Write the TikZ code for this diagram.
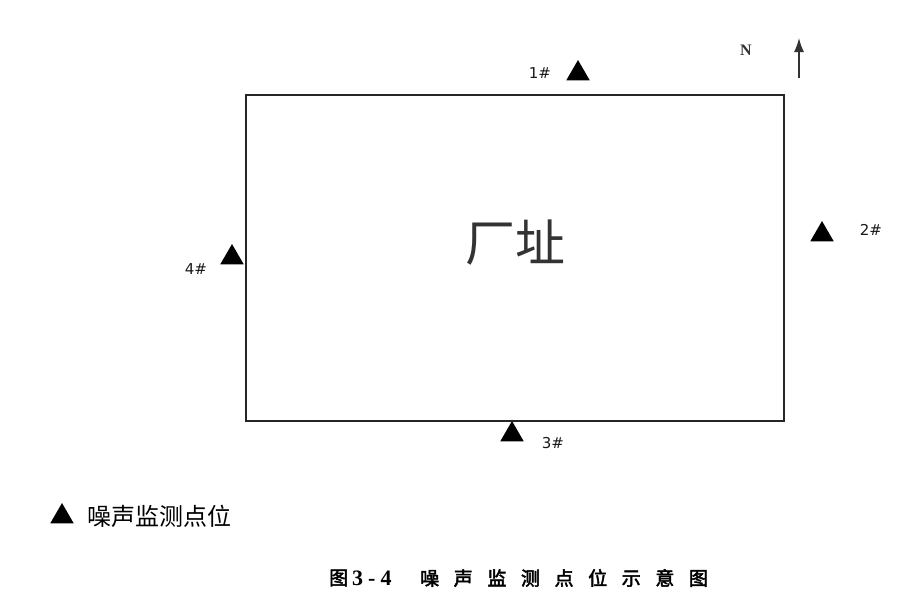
\documentclass[tikz,border=0pt]{standalone}
\usepackage{fontspec}
\setmainfont{Liberation Serif}
\newfontfamily\cjk{Noto Sans CJK SC}
\newfontfamily\cjkbold{Noto Sans CJK SC}[FakeBold=2.5]
\newfontfamily\lab{DejaVu Sans}
\usetikzlibrary{shapes.geometric,arrows.meta}
\tikzset{
  mark tri/.style={regular polygon, regular polygon sides=3, fill=black, draw=none,
    minimum size=27pt, inner sep=0pt},
  ptlabel/.style={font=\lab\fontsize{15}{15}\selectfont, text=black!90, inner sep=0pt},
  site/.style={draw=black!85, line width=1.8pt},
}
\begin{document}
\begin{tikzpicture}[x=1pt,y=-1pt]
\useasboundingbox (0,0) rectangle (915,595);
% site rectangle
\node[site, minimum width=538pt, minimum height=326pt, inner sep=0pt, anchor=north west] (site) at (245,94) {};
\node[font=\cjk\fontsize{50}{50}\selectfont, text=black!80, inner sep=0pt] (name) at (515,243) {厂址};
% monitoring points
\node[mark tri] (t1) at (578,73.5) {};
\node[ptlabel] (l1) at (540,73) {1\#};
\node[mark tri] (t2) at (822,234.5) {};
\node[ptlabel] (l2) at (871,230) {2\#};
\node[mark tri] (t3) at (512,434.5) {};
\node[ptlabel] (l3) at (553,443) {3\#};
\node[mark tri] (t4) at (232,257.5) {};
\node[ptlabel] (l4) at (196,269) {4\#};
% north arrow
\node[font=\bfseries\fontsize{16}{16}\selectfont, text=black!80, inner sep=0pt] (N) at (746,50) {N};
\coordinate (ntail) at (799,78);
\coordinate (nhead) at (799,38);
\draw[line width=1.4pt, black!80, -{Latex[length=14pt,width=10pt]}] (ntail) -- (nhead);
% legend
\node[mark tri] (lt) at (62,516.5) {};
\node[font=\cjk\fontsize{24}{24}\selectfont, anchor=west, inner sep=0pt] (legend) at (87,516) {噪声监测点位};
% caption
\node[font=\cjkbold\fontsize{19}{19}\selectfont, anchor=west, inner sep=0pt] (cap1) at (329,578) {图};
\node[font=\bfseries\fontsize{22}{22}\selectfont, anchor=west, inner sep=0pt] (cap2) at (352,578) {3\hspace{5pt}-\hspace{5pt}4};
\node[font=\cjkbold\fontsize{19}{19}\selectfont, anchor=west, inner sep=0pt] (cap3) at (420,578)
  {噪\hspace{14.6pt}声\hspace{14.6pt}监\hspace{14.6pt}测\hspace{14.6pt}点\hspace{14.6pt}位\hspace{14.6pt}示\hspace{14.6pt}意\hspace{14.6pt}图};
\end{tikzpicture}
\end{document}
